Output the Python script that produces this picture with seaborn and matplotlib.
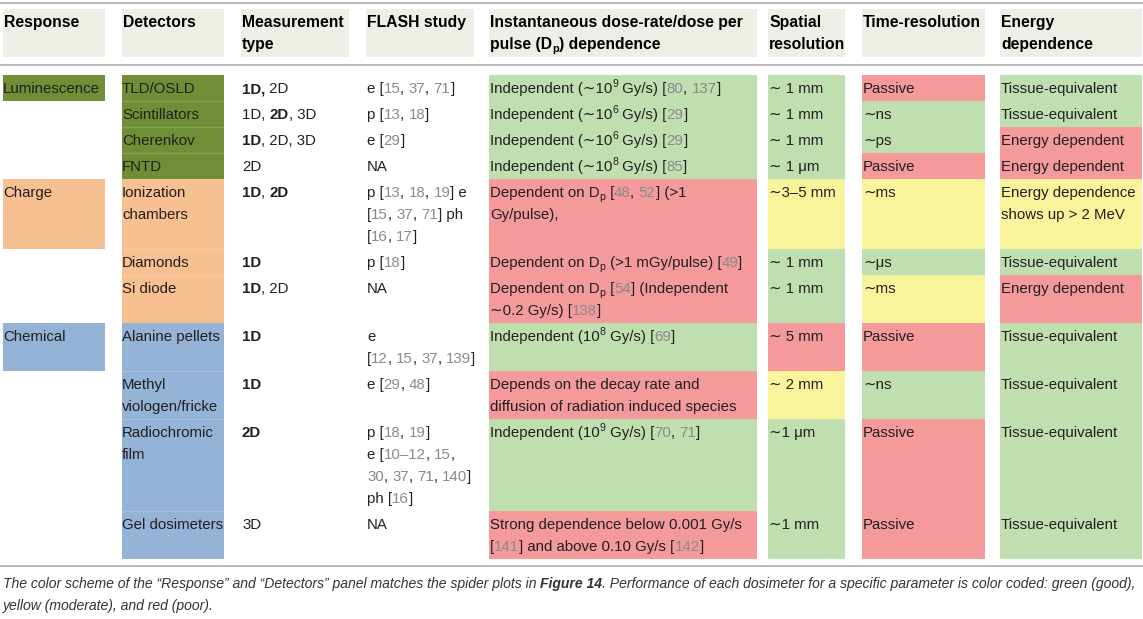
import matplotlib.pyplot as plt
import seaborn as sns
from matplotlib.patches import Rectangle

sns.set_theme(style="white")
plt.rcParams['font.family'] = ['Liberation Sans', 'DejaVu Sans']

# markup: *bold*, {grey reference}, ^x superscript char, _x subscript char
headers = ["Response", "Detectors", "Measurement\ntype", "FLASH study",
           "Instantaneous dose-rate/dose per\npulse (D_p) dependence",
           "Spatial\nresolution", "Time-resolution", "Energy\ndependence"]

responses = ["Luminescence", "Charge", "Chemical"]
response_colors = ["#6f8e35", "#f7c090", "#95b3d7"]
row_group = [0, 0, 0, 0, 1, 1, 1, 2, 2, 2, 2]

detectors = ["TLD/OSLD", "Scintillators", "Cherenkov", "FNTD",
             "Ionization\nchambers", "Diamonds", "Si diode", "Alanine pellets",
             "Methyl\nviologen/fricke", "Radiochromic\nfilm", "Gel dosimeters"]

measurement = ["*1D,* 2D", "1D, *2D*, 3D", "*1D*, 2D, 3D", "2D", "*1D*, *2D*",
               "*1D*", "*1D*, 2D", "*1D*", "*1D*", "*2D*", "3D"]

flash = ["e [{15}, {37}, {71}]", "p [{13}, {18}]", "e [{29}]", "NA",
         "p [{13}, {18}, {19}] e\n[{15}, {37}, {71}] ph\n[{16}, {17}]",
         "p [{18}]", "NA", "e\n[{12}, {15}, {37}, {139}]", "e [{29}, {48}]",
         "p [{18}, {19}]\ne [{10–12}, {15},\n{30}, {37}, {71}, {140}]\nph [{16}]",
         "NA"]

dose = ["Independent (∼10^9 Gy/s) [{80}, {137}]",
        "Independent (∼10^6 Gy/s) [{29}]",
        "Independent (∼10^6 Gy/s) [{29}]",
        "Independent (∼10^8 Gy/s) [{85}]",
        "Dependent on D_p [{48}, {52}] (>1\nGy/pulse),",
        "Dependent on D_p (>1 mGy/pulse) [{49}]",
        "Dependent on D_p [{54}] (Independent\n∼0.2 Gy/s) [{138}]",
        "Independent (10^8 Gy/s) [{69}]",
        "Depends on the decay rate and\ndiffusion of radiation induced species",
        "Independent (10^9 Gy/s) [{70}, {71}]",
        "Strong dependence below 0.001 Gy/s\n[{141}] and above 0.10 Gy/s [{142}]"]
dose_rating = ["g", "g", "g", "g", "r", "r", "r", "g", "r", "g", "r"]

spatial = ["∼ 1 mm", "∼ 1 mm", "∼ 1 mm", "∼ 1 μm", "∼3–5 mm", "∼ 1 mm",
           "∼ 1 mm", "∼ 5 mm", "∼ 2 mm", "∼1 μm", "∼1 mm"]
spatial_rating = ["g", "g", "g", "g", "y", "g", "g", "r", "y", "g", "g"]

time_res = ["Passive", "∼ns", "∼ps", "Passive", "∼ms", "∼μs", "∼ms",
            "Passive", "∼ns", "Passive", "Passive"]
time_rating = ["r", "g", "g", "r", "y", "g", "y", "r", "g", "r", "r"]

energy = ["Tissue-equivalent", "Tissue-equivalent", "Energy dependent",
          "Energy dependent", "Energy dependence\nshows up > 2 MeV",
          "Tissue-equivalent", "Energy dependent", "Tissue-equivalent",
          "Tissue-equivalent", "Tissue-equivalent", "Tissue-equivalent"]
energy_rating = ["g", "g", "r", "r", "y", "g", "r", "g", "g", "g", "g"]

rating_colors = {"g": "#bfdfb1", "y": "#f9f39b", "r": "#f49a9b"}

caption = ("The color scheme of the \u201cResponse\u201d and \u201cDetectors\u201d panel matches the spider plots in "
           "*Figure 14*. Performance of each dosimeter for a specific parameter is color coded: green (good),\n"
           "yellow (moderate), and red (poor).")

# layout (pixels)
col_edges = [(3, 105), (122, 224), (241, 349), (366, 474), (489, 757),
             (768, 845), (862, 985), (1000, 1142)]
FS = 10.8
LINE = 22
TEXT_COLOR = "#231f20"
GREY = "#8a8a8a"

fig = plt.figure(figsize=(11.43, 6.19), dpi=100)
ax = fig.add_axes([0, 0, 1, 1])
ax.set_xlim(0, 1143)
ax.set_ylim(619, 0)
ax.axis('off')
renderer = fig.canvas.get_renderer()


def parse(s):
    segs = []
    bold = grey = False
    buf = ""
    i = 0
    while i < len(s):
        c = s[i]
        if c in "*{}^_":
            if buf:
                segs.append((buf, bold, grey, 0))
                buf = ""
            if c == "*":
                bold = not bold
            elif c == "{":
                grey = True
            elif c == "}":
                grey = False
            else:
                segs.append((s[i + 1], bold, grey, 1 if c == "^" else -1))
                i += 1
        else:
            buf += c
        i += 1
    if buf:
        segs.append((buf, bold, grey, 0))
    return segs


def width(s, **kw):
    t = ax.text(0, 0, "x" + s + "x", **kw)
    w = t.get_window_extent(renderer).width
    t.remove()
    t = ax.text(0, 0, "xx", **kw)
    w -= t.get_window_extent(renderer).width
    t.remove()
    return w


def rich(x, y, s, size=FS, bold_all=False, style="normal", color=TEXT_COLOR):
    for k, line in enumerate(s.split("\n")):
        xx = x
        yy = y + k * LINE
        for txt, bold, grey, script in parse(line):
            kw = dict(fontsize=size * (0.7 if script else 1),
                      fontweight="bold" if (bold or bold_all) else "normal",
                      fontstyle=style, color=GREY if grey else color)
            dy = {0: 0, 1: -6, -1: 3}[script]
            ax.text(xx, yy + dy, txt, va="baseline", ha="left", **kw)
            xx += width(txt, **kw)


# rules
ax.plot([0, 1143], [3, 3], color="#bdbdbd", lw=1.6)
ax.plot([0, 1143], [65, 65], color="#bdbdbd", lw=1.4)
ax.plot([0, 1143], [566, 566], color="#bdbdbd", lw=1.4)

# header
for (x0, x1), h in zip(col_edges, headers):
    ax.add_patch(Rectangle((x0, 9), x1 - x0, 48, color="#efeee6", lw=0))
    rich(x0 + 1, 27, h, size=11.3, bold_all=True, color="black")

# body
columns = [measurement, flash, dose, spatial, time_res, energy]
ratings = [None, None, dose_rating, spatial_rating, time_rating, energy_rating]
row_lines = [max(c[i].count("\n") + 1 for c in [detectors] + columns)
             for i in range(len(detectors))]

y = 75
seen = set()
for i, det in enumerate(detectors):
    h = 4 + LINE * row_lines[i]
    g = row_group[i]
    if g not in seen:
        seen.add(g)
        x0, x1 = col_edges[0]
        ax.add_patch(Rectangle((x0, y), x1 - x0, h, color=response_colors[g], lw=0))
        rich(x0, y + 18, responses[g])
    x0, x1 = col_edges[1]
    ax.add_patch(Rectangle((x0, y), x1 - x0, h, color=response_colors[g], lw=0))
    if i > 0 and row_group[i - 1] == g:
        ax.plot([x0, x1], [y, y], color="white", alpha=0.18, lw=1)
    rich(x0, y + 18, det)
    for (x0, x1), col, rat in zip(col_edges[2:], columns, ratings):
        if rat is not None:
            ax.add_patch(Rectangle((x0, y), x1 - x0, h, color=rating_colors[rat[i]], lw=0))
        rich(x0 + 1, y + 18, col[i])
    y += h

rich(3, 588, caption, size=10.1, style="italic", color="#333333")

fig.savefig("out.png", dpi=100)
